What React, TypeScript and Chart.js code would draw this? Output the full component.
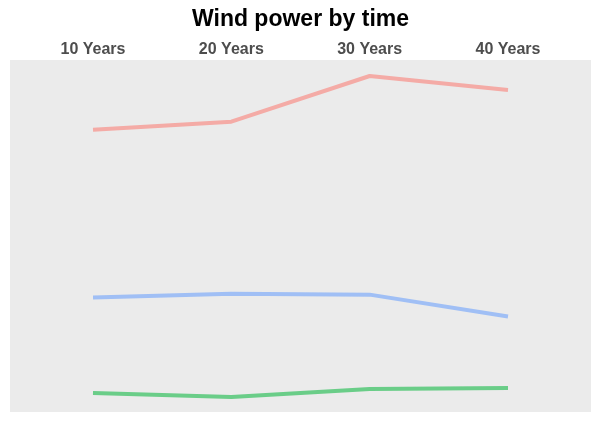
import React, { useEffect, useRef } from "react";
import { Chart, registerables } from "chart.js";

Chart.register(...registerables);

// time categories
const periods = ["10 Years", "20 Years", "30 Years", "40 Years"];

// wind power per series (arbitrary units)
const seriesHigh = [271, 279, 325, 311];
const seriesMid = [102, 106, 105, 83];
const seriesLow = [6, 2, 10, 11];

const panelBg = {
  id: "panelBg",
  beforeDraw(chart: Chart) {
    const { ctx, chartArea } = chart;
    ctx.save();
    ctx.fillStyle = "#EBEBEB";
    ctx.fillRect(chartArea.left, chartArea.top, chartArea.right - chartArea.left, chartArea.bottom - chartArea.top);
    ctx.restore();
  },
};

export default function App() {
  const canvasRef = useRef<HTMLCanvasElement>(null);

  useEffect(() => {
    document.body.style.margin = "0";
    if (!canvasRef.current) return;

    const toPoints = (vals: number[]) => vals.map((v, i) => ({ x: i + 1, y: v }));
    const line = (vals: number[], color: string) => ({
      data: toPoints(vals),
      borderColor: color,
      borderWidth: 4,
      pointRadius: 0,
      borderCapStyle: "butt" as const,
      borderJoinStyle: "round" as const,
      tension: 0,
      fill: false,
    });

    const chart = new Chart(canvasRef.current, {
      type: "line",
      data: {
        datasets: [
          line(seriesHigh, "#F4ABA6"),
          line(seriesMid, "#A0BFF5"),
          line(seriesLow, "#6ACD88"),
        ],
      },
      options: {
        animation: false,
        responsive: false,
        maintainAspectRatio: false,
        layout: { padding: { left: 10, right: 9, bottom: 9, top: 0 } },
        plugins: {
          legend: { display: false },
          tooltip: { enabled: false },
          title: {
            display: true,
            text: "Wind power by time",
            color: "#000000",
            font: { size: 23, weight: "bold", family: "Liberation Sans, Arial, sans-serif" },
            padding: { top: 6, bottom: 0 },
          },
        },
        scales: {
          x: {
            type: "linear",
            position: "top",
            min: 0.4,
            max: 4.6,
            afterBuildTicks: (axis) => {
              axis.ticks = periods.map((_, i) => ({ value: i + 1 }));
            },
            afterFit: (axis) => {
              axis.height = 26.4;
            },
            ticks: {
              color: "#4D4D4D",
              padding: -7,
              maxRotation: 0,
              autoSkip: false,
              font: { size: 16, weight: "bold", family: "Liberation Sans, Arial, sans-serif" },
              callback: (v) => periods[Number(v) - 1] ?? "",
            },
            grid: { display: false },
            border: { display: false },
          },
          y: {
            display: false,
            min: -13.1,
            max: 341.1,
          },
        },
      },
      plugins: [panelBg],
    });

    return () => {
      chart.destroy();
    };
  }, []);

  return (
    <div style={{ width: 600, height: 421 }}>
      <canvas ref={canvasRef} width={600} height={421} />
    </div>
  );
}
